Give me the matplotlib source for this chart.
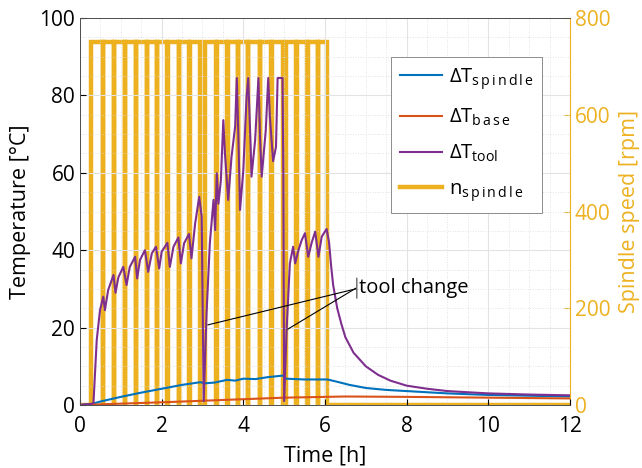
import matplotlib
matplotlib.use('Agg')
import matplotlib.pyplot as plt
from matplotlib.ticker import MultipleLocator

# temperatures (time in h, values in degC)
spindle_t = [0, 0.3, 0.5, 1.0, 1.5, 2.0, 2.5, 2.95, 3.05, 3.3, 3.6, 3.8, 4.0, 4.3, 4.6,
             4.97, 5.05, 5.5, 6.06, 6.3, 6.6, 7.0, 7.5, 8, 9, 10, 11, 12]
spindle_T = [0, 0.3, 0.9, 2.1, 3.2, 4.2, 5.2, 5.9, 5.6, 5.8, 6.5, 6.3, 6.8, 6.7, 7.2,
             7.6, 6.8, 6.6, 6.6, 6.0, 5.2, 4.4, 3.9, 3.6, 3.0, 2.6, 2.4, 2.2]

base_t = [0, 1, 2, 3, 4, 5, 6, 6.5, 8, 10, 12]
base_T = [0, 0.35, 0.7, 1.1, 1.5, 1.9, 2.1, 2.2, 2.1, 1.9, 1.7]

tool_t = [0, 0.28, 0.33, 0.41, 0.49, 0.57, 0.61, 0.69, 0.82, 0.87, 0.94, 1.06, 1.14,
          1.22, 1.35, 1.40, 1.47, 1.59, 1.67, 1.76, 1.86, 1.94, 2.0, 2.14, 2.2, 2.29,
          2.41, 2.47, 2.55, 2.67, 2.73, 2.82, 2.92, 2.98, 3.03, 3.10, 3.18, 3.27, 3.31,
          3.35, 3.39, 3.45, 3.51, 3.55, 3.63, 3.71, 3.80, 3.84, 3.88, 3.92, 4.0, 4.08,
          4.12, 4.18, 4.20, 4.29, 4.37, 4.41, 4.45, 4.55, 4.61, 4.65, 4.73, 4.8, 4.84,
          4.96, 4.98, 5.0, 5.06, 5.14, 5.22, 5.27, 5.35, 5.43, 5.51, 5.59, 5.67, 5.76,
          5.84, 5.92, 6.04, 6.1, 6.15, 6.2, 6.3, 6.4, 6.5, 6.7, 7.0, 7.3, 7.6, 8.0,
          8.5, 9, 10, 11, 12]
tool_T = [0, 0.3, 0.5, 16.8, 24.5, 28, 24.5, 29.7, 33.6, 29, 33, 35.7, 31,
          35.7, 38.3, 32.7, 37.5, 40, 34.4, 39.2, 40.9, 35.3, 39.6, 41.9, 35.7, 40.9,
          43.3, 36.6, 41.8, 44.2, 37.9, 46.9, 53.8, 48.7, 1.0, 23.7, 41.8, 53, 45.2,
          59.9, 52, 58, 73.6, 65, 53, 64, 72, 84.5, 69, 50.4, 60.7, 79.7,
          84.5, 66.7, 59, 68.5, 84.5, 69, 59, 71, 84.5, 74.5, 63, 66.7, 84.5,
          84.5, 60, 1.0, 19.4, 36.6, 40.9, 36.6, 40, 42.6, 44.4, 38.3, 41.8, 44.8,
          38.3, 43.5, 45.5, 42, 36, 31, 25, 21, 17.5, 13.5, 10, 7.8, 6.3, 5.0,
          4.2, 3.6, 3.0, 2.7, 2.5]

# spindle speed: running periods, brief stops inside them (h), speed (rpm)
run_on = [0.28, 3.07, 5.04]
run_off = [2.95, 4.97, 6.06]
stops = [0.56, 0.84, 1.11, 1.37, 1.64, 1.89, 2.14, 2.42, 2.68,
         3.34, 3.61, 3.87, 4.11, 4.41, 4.69,
         5.30, 5.57, 5.82]
n_run = 750

speed_t = [0]
speed_n = [0]
for on, off in zip(run_on, run_off):
    speed_t += [on, on]
    speed_n += [0, n_run]
    for s in stops:
        if on < s < off:
            speed_t += [s, s, s + 0.004, s + 0.004]
            speed_n += [n_run, 0, 0, n_run]
    speed_t += [off, off]
    speed_n += [n_run, 0]
speed_t.append(12)
speed_n.append(0)

c_blue = '#0072BD'
c_orange = '#D95319'
c_yellow = '#EDB120'
c_purple = '#7E2F8E'
c_axis = '#4d4d4d'

plt.rcParams['font.family'] = ['Open Sans', 'DejaVu Sans']
plt.rcParams['mathtext.fontset'] = 'custom'
plt.rcParams['mathtext.rm'] = 'Open Sans'
plt.rcParams['mathtext.it'] = 'Open Sans'

fig = plt.figure(figsize=(6.42, 4.68), dpi=100)
ax = fig.add_axes([0.1246, 0.1346, 0.7632, 0.8269])
ax2 = ax.twinx()
ax.set_zorder(ax2.get_zorder() + 1)
ax.patch.set_visible(False)

ax2.plot(speed_t, speed_n, color=c_yellow, lw=3.2, solid_joinstyle='miter')
l1, = ax.plot(spindle_t, spindle_T, color=c_blue, lw=1.5)
l2, = ax.plot(base_t, base_T, color=c_orange, lw=1.5)
l3, = ax.plot(tool_t, tool_T, color=c_purple, lw=1.5)
l4, = ax.plot([], [], color=c_yellow, lw=3.2)

ax.set_xlim(0, 12)
ax.set_ylim(0, 100)
ax2.set_ylim(0, 800)
ax.xaxis.set_major_locator(MultipleLocator(2))
ax.xaxis.set_minor_locator(MultipleLocator(0.5))
ax.yaxis.set_major_locator(MultipleLocator(20))
ax.yaxis.set_minor_locator(MultipleLocator(5))
ax2.yaxis.set_major_locator(MultipleLocator(200))
ax2.yaxis.set_minor_locator(MultipleLocator(800))

ax.grid(which='major', color='#e3e3e3', lw=0.8)
ax.grid(which='minor', color='#d9d9d9', lw=0.6, ls=(0, (1, 2)))

ax.tick_params(which='both', direction='in', labelsize=15, colors='black',
               length=4, top=False)
ax.tick_params(axis='x', pad=8)
ax.tick_params(which='minor', length=0)
ax2.tick_params(which='both', direction='in', labelsize=15, colors=c_yellow, length=4)
ax2.tick_params(which='minor', length=0)
for sp in ['left', 'bottom', 'top']:
    ax.spines[sp].set_color(c_axis)
    ax.spines[sp].set_linewidth(0.7)
ax.spines['right'].set_visible(False)
for sp in ['left', 'bottom', 'top']:
    ax2.spines[sp].set_visible(False)
ax2.spines['right'].set_color(c_yellow)
ax2.spines['right'].set_linewidth(0.8)

ax.set_xlabel('Time [h]', fontsize=15.5, labelpad=6)
ax.set_ylabel('Temperature [°C]', fontsize=15.5, labelpad=6)
ax2.set_ylabel('Spindle speed [rpm]', fontsize=15.5, color=c_yellow, labelpad=6)

leg = ax.legend([l1, l2, l3, l4],
                ['ΔT$_{\\mathrm{s\\,p\\,i\\,n\\,d\\,l\\,e}}$', 'ΔT$_{\\mathrm{b\\,a\\,s\\,e}}$',
                 'ΔT$_{\\mathrm{tool}}$', 'n$_{\\mathrm{s\\,p\\,i\\,n\\,d\\,l\\,e}}$'],
                loc='upper left', bbox_to_anchor=(0.635, 0.9), borderaxespad=0,
                fontsize=14.5, handlelength=2.1, handletextpad=0.3, labelspacing=0.75,
                borderpad=0.45, fancybox=False, framealpha=1, edgecolor='#8c8c8c')
leg.get_frame().set_linewidth(0.7)

# tool change callouts
txt_xy = (6.83, 30.2)
ax.annotate('tool change', xy=(3.13, 20.7), xytext=txt_xy, fontsize=14.5,
            va='center', ha='left',
            arrowprops=dict(arrowstyle='-', color='black', lw=0.8,
                            relpos=(0, 0.5), shrinkA=0, shrinkB=0))
ax.annotate('', xy=(5.09, 19.6), xytext=(6.76, 30.2),
            arrowprops=dict(arrowstyle='-', color='black', lw=0.8,
                            shrinkA=0, shrinkB=0))
ax.annotate('', xy=(6.78, 27.6), xytext=(6.78, 32.8),
            arrowprops=dict(arrowstyle='-', color='#555555', lw=0.9,
                            shrinkA=0, shrinkB=0))

fig.savefig('out.png', dpi=100)
